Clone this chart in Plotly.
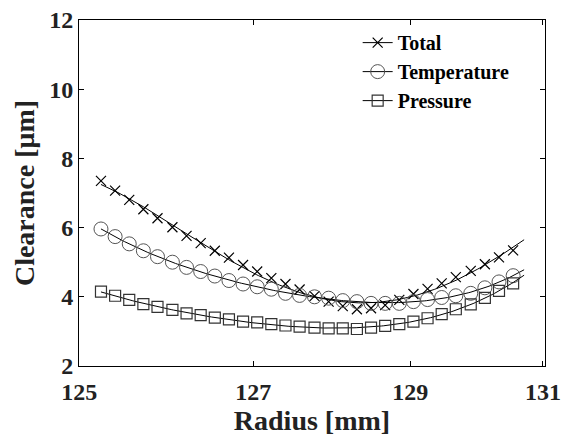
import numpy as np
import plotly.graph_objects as go

# Radius [mm]
radius = [125.06, 125.24, 125.42, 125.60, 125.78, 125.97, 126.15, 126.33, 126.51, 126.69,
          126.87, 127.05, 127.23, 127.41, 127.59, 127.78, 127.96, 128.14, 128.32, 128.50,
          128.68, 128.86, 129.04, 129.22, 129.40, 129.58, 129.77, 129.95, 130.13, 130.31]

total = [7.35, 7.07, 6.80, 6.53, 6.27, 6.01, 5.76, 5.55, 5.33, 5.13,
         4.92, 4.73, 4.54, 4.37, 4.21, 4.02, 3.86, 3.73, 3.64, 3.67,
         3.76, 3.91, 4.08, 4.23, 4.39, 4.57, 4.75, 4.94, 5.14, 5.34]

temperature = [5.96, 5.74, 5.53, 5.33, 5.16, 5.00, 4.85, 4.73, 4.60, 4.47,
               4.37, 4.29, 4.22, 4.10, 4.04, 4.00, 3.96, 3.89, 3.86, 3.81,
               3.81, 3.81, 3.86, 3.92, 3.98, 4.03, 4.10, 4.26, 4.43, 4.61]

pressure = [4.15, 4.03, 3.91, 3.79, 3.71, 3.62, 3.52, 3.47, 3.40, 3.35,
            3.28, 3.26, 3.21, 3.17, 3.14, 3.11, 3.09, 3.09, 3.07, 3.11,
            3.16, 3.21, 3.28, 3.38, 3.50, 3.64, 3.78, 3.97, 4.17, 4.39]

x_range = [124.78, 130.716]
x_tickvals = [124.782, 127, 129, 130.69]
x_ticktext = ["125", "127", "129", "131"]

FONT = "Times New Roman, Liberation Serif, serif"

series = [
    ("Total", total, dict(symbol="x-thin-open", size=10, color="black", line=dict(color="black", width=1.2))),
    ("Temperature", temperature, dict(symbol="circle-open", size=14, color="#555555", line=dict(color="#555555", width=1))),
    ("Pressure", pressure, dict(symbol="square-open", size=11, color="#333333", line=dict(color="#333333", width=1.2))),
]

fig = go.Figure()
xs = np.array(radius)
xfit = np.linspace(xs[0], xs[-1] + 0.14, 200)
for name, ys, mk in series:
    coeffs = np.polyfit(xs, np.array(ys), 4)
    fig.add_trace(go.Scatter(x=xfit, y=np.polyval(coeffs, xfit), mode="lines",
                             line=dict(color="black", width=1), showlegend=False, hoverinfo="skip"))
    fig.add_trace(go.Scatter(x=radius, y=ys, mode="markers", marker=mk, showlegend=False, name=name))
for name, ys, mk in series:
    fig.add_trace(go.Scatter(x=[None], y=[None], mode="lines+markers", name=name,
                             marker=mk, line=dict(color="black", width=1)))

axis_common = dict(showline=True, linecolor="black", linewidth=1, mirror="ticks",
                   ticks="inside", ticklen=5, tickcolor="black", showgrid=False, zeroline=False,
                   ticklabeloverflow="allow", automargin=False,
                   tickfont=dict(family=FONT, size=24, color="#222222", weight="bold"))

fig.update_layout(
    width=561, height=437,
    margin=dict(l=79, r=16, t=20, b=71),
    paper_bgcolor="white", plot_bgcolor="white",
    xaxis=dict(range=x_range, tickmode="array", tickvals=x_tickvals, ticktext=x_ticktext,
               ticklabelstandoff=4,
               title=dict(text="Radius [mm]", font=dict(family=FONT, size=28, color="#222222", weight="bold"), standoff=2),
               **axis_common),
    yaxis=dict(range=[2, 12], dtick=2,
               title=dict(text="Clearance [μm]", font=dict(family=FONT, size=28, color="#222222", weight="bold"), standoff=6),
               **axis_common),
    legend=dict(x=0.598, y=0.991, xanchor="left", yanchor="top", bgcolor="rgba(0,0,0,0)",
                font=dict(family=FONT, size=20, color="black", weight="bold"),
                tracegroupgap=0, itemsizing="trace"),
)

fig.write_html("out.html")
